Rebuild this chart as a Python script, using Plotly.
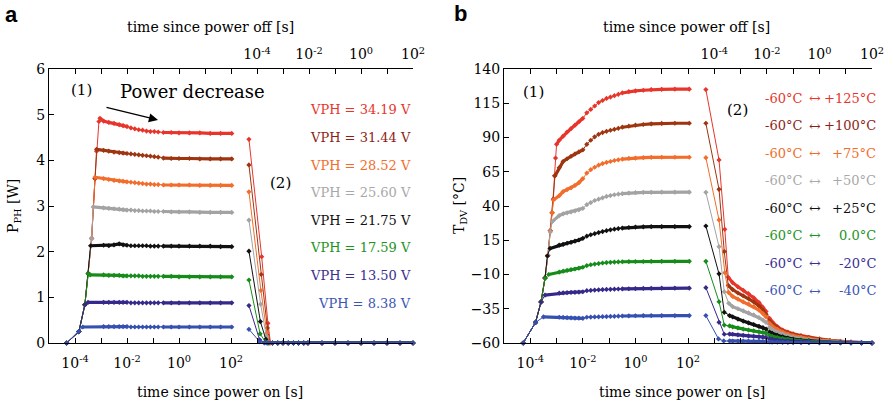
import numpy as np
import plotly.graph_objects as go

W, H = 894, 408

# ---- labels / colours -------------------------------------------------
vph_labels = ['VPH = 34.19 V', 'VPH = 31.44 V', 'VPH = 28.52 V', 'VPH = 25.60 V',
              'VPH = 21.75 V', 'VPH = 17.59 V', 'VPH = 13.50 V', 'VPH = 8.38 V']
cycle_low = '-60°C'
cycle_high = ['+125°C', '+100°C', '+75°C', '+50°C', '+25°C', '0.0°C', '-20°C', '-40°C']
line_colors = ['#e8352b', '#9e3510', '#f26d2b', '#a3a3a3', '#111111', '#168c1a', '#35298a', '#3550b0']
text_colors = ['#e8352b', '#8c1f17', '#f26d2b', '#a8a8a8', '#111111', '#1e931e', '#3a2e90', '#3a55b5']

bottom_decades = list(range(-5, 10))
top_decades = list(range(-12, 3))
decade_labels = {-4: '10<sup>-4</sup>', -2: '10<sup>-2</sup>', 0: '10<sup>0</sup>', 2: '10<sup>2</sup>'}

# ---- panel a : heater power P_PH [W], times as log10(s) ---------------
a_on_rise_t = [
    [-4.32, -3.85, -3.62, -3.49, -3.36, -3.23, -3.17, -3.08, -3.04],
    [-4.32, -3.85, -3.62, -3.49, -3.36, -3.23, -3.17],
    [-4.32, -3.85, -3.62, -3.49, -3.36, -3.23],
    [-4.32, -3.85, -3.62, -3.49, -3.36, -3.30],
    [-4.32, -3.85, -3.62, -3.49, -3.40],
    [-4.32, -3.85, -3.62, -3.49, -3.42],
    [-4.32, -3.85, -3.62, -3.50],
    [-4.32, -3.85, -3.70],
]
a_on_rise_p = [
    [0, 0.25, 0.84, 1.52, 2.29, 3.60, 4.20, 4.85, 4.92],
    [0, 0.25, 0.84, 1.52, 2.29, 3.60, 4.24],
    [0, 0.25, 0.84, 1.52, 2.29, 3.63],
    [0, 0.25, 0.84, 1.52, 2.29, 2.98],
    [0, 0.25, 0.84, 1.52, 2.13],
    [0, 0.25, 0.84, 1.52, 1.49],
    [0, 0.25, 0.84, 0.89],
    [0, 0.25, 0.35],
]
a_on_t = [-2.9, -2.7, -2.5, -2.3, -2.15, -2.0, -1.85, -1.7, -1.55, -1.4, -1.25,
          -1.1, -0.95, -0.8, -0.6, -0.3, 0.0, 0.4, 0.8, 1.2, 1.6, 2.03]
a_on_p = [
    [4.86, 4.83, 4.81, 4.78, 4.76, 4.74, 4.71, 4.69, 4.67, 4.66, 4.64, 4.63, 4.63, 4.62, 4.61, 4.61, 4.60, 4.60, 4.60, 4.59, 4.59, 4.59],
    [4.22, 4.20, 4.18, 4.17, 4.16, 4.15, 4.14, 4.13, 4.12, 4.11, 4.10, 4.09, 4.08, 4.07, 4.05, 4.04, 4.04, 4.04, 4.03, 4.03, 4.03, 4.03],
    [3.60, 3.58, 3.56, 3.55, 3.54, 3.53, 3.52, 3.51, 3.50, 3.49, 3.48, 3.48, 3.47, 3.47, 3.46, 3.46, 3.46, 3.46, 3.45, 3.45, 3.45, 3.45],
    [2.96, 2.95, 2.94, 2.93, 2.92, 2.91, 2.91, 2.90, 2.90, 2.89, 2.89, 2.89, 2.88, 2.88, 2.88, 2.87, 2.87, 2.87, 2.86, 2.86, 2.86, 2.86],
    [2.14, 2.13, 2.15, 2.17, 2.15, 2.14, 2.13, 2.13, 2.13, 2.13, 2.13, 2.12, 2.12, 2.12, 2.12, 2.12, 2.12, 2.12, 2.12, 2.12, 2.11, 2.11],
    [1.49, 1.48, 1.48, 1.48, 1.47, 1.47, 1.47, 1.47, 1.47, 1.46, 1.46, 1.46, 1.46, 1.46, 1.46, 1.46, 1.45, 1.45, 1.45, 1.45, 1.45, 1.45],
    [0.89, 0.89, 0.89, 0.89, 0.89, 0.89, 0.88, 0.88, 0.88, 0.88, 0.88, 0.88, 0.88, 0.88, 0.88, 0.88, 0.88, 0.88, 0.88, 0.88, 0.88, 0.88],
    [0.36, 0.36, 0.36, 0.36, 0.36, 0.36, 0.35, 0.35, 0.35, 0.35, 0.35, 0.35, 0.35, 0.35, 0.35, 0.35, 0.35, 0.35, 0.35, 0.35, 0.35, 0.35],
]
a_off_drop_t = [
    [-4.31, -3.82, -3.58, -3.48],
    [-4.31, -3.84, -3.60, -3.50],
    [-4.31, -3.85, -3.62, -3.52],
    [-4.31, -3.86, -3.64, -3.54],
    [-4.31, -3.87, -3.66, -3.56],
    [-4.31, -3.88, -3.68, -3.58],
    [-4.31, -3.90, -3.70, -3.60],
    [-4.31, -3.90, -3.72, -3.62],
]
a_off_drop_p = [
    [4.46, 1.89, 0.43, 0],
    [3.90, 1.50, 0.33, 0],
    [3.31, 1.15, 0.22, 0],
    [2.69, 0.85, 0.15, 0],
    [2.01, 0.47, 0.08, 0],
    [1.38, 0.20, 0.03, 0],
    [0.82, 0.07, 0.01, 0],
    [0.30, 0.03, 0.00, 0],
]
a_off_t = [-3.4, -3.2, -3.0, -2.8, -2.6, -2.4, -2.2, -2.04, -1.5, -1.0, -0.5, 0.0, 0.5, 1.0, 1.5, 2.0]
a_off_p = [0, 0, 0, 0, 0, 0, 0, 0, 0, 0, 0, 0, 0, 0, 0, 0]

# ---- panel b : device temperature T_DV [°C] ---------------------------
b_on_rise_t = [
    [-4.27, -3.80, -3.59, -3.44, -3.33, -3.24, -3.17, -3.12, -3.08, -3.04, -3.00],
    [-4.27, -3.80, -3.59, -3.44, -3.33, -3.24, -3.17, -3.12, -3.06],
    [-4.27, -3.80, -3.59, -3.44, -3.33, -3.24, -3.17, -3.12],
    [-4.27, -3.80, -3.59, -3.44, -3.33, -3.24, -3.17],
    [-4.27, -3.80, -3.59, -3.44, -3.35, -3.25],
    [-4.27, -3.80, -3.59, -3.44, -3.30],
    [-4.27, -3.80, -3.59, -3.44],
    [-4.27, -3.80, -3.50],
]
b_on_rise_T = [
    [-60, -45, -30, -12.5, 4, 22, 35, 45, 62, 75, 85],
    [-60, -45, -30, -12.5, 4, 22, 35, 45, 62],
    [-60, -45, -30, -12.5, 4, 22, 35, 44.4],
    [-60, -45, -30, -12.5, 4, 21, 28.5],
    [-60, -45, -30, -12.5, 3.5, 9],
    [-60, -45, -30, -12.8, -10],
    [-60, -45, -30, -25],
    [-60, -45, -41],
]
b_on_t = [-2.9, -2.75, -2.6, -2.45, -2.3, -2.15, -2.0, -1.85, -1.7, -1.55, -1.4, -1.25,
          -1.1, -0.95, -0.8, -0.65, -0.5, -0.25, 0.0, 0.3, 0.6, 1.0, 1.5, 2.05]
b_on_T = [
    [88, 91, 94, 96.5, 99, 101.5, 104, 108, 110.5, 113, 115.5, 117, 118.5, 119.5, 120.5, 121.5, 122.5, 123.5, 124, 124.5, 125, 125.2, 125.3, 125.3],
    [68, 72.5, 74.5, 76.3, 78, 79.5, 81, 85, 88, 90.5, 92.3, 93.6, 94.5, 95.3, 96, 96.7, 97.5, 98.3, 99, 99.5, 100, 100.3, 100.4, 100.4],
    [47.5, 50.5, 52, 53.3, 55, 57, 60, 64, 66.5, 68.3, 69.8, 71, 71.8, 72.5, 73.2, 73.7, 74.2, 74.7, 75, 75.3, 75.5, 75.6, 75.6, 75.6],
    [33, 34.3, 35, 35.7, 36.4, 37.2, 38.3, 41, 42.5, 44, 45, 46, 47, 47.6, 48.2, 48.6, 49, 49.4, 49.7, 49.9, 50, 50.1, 50.1, 50.1],
    [11.5, 12, 12.8, 13.5, 14.3, 15.2, 16.4, 18, 19, 19.8, 20.6, 21.3, 22, 22.6, 23.1, 23.5, 23.9, 24.3, 24.6, 24.8, 24.9, 25, 25, 25],
    [-8.2, -7.6, -7, -6.5, -6, -5.4, -4.7, -3.5, -2.9, -2.4, -2.0, -1.6, -1.3, -1.1, -0.9, -0.8, -0.7, -0.6, -0.5, -0.5, -0.4, -0.4, -0.4, -0.4],
    [-23.6, -23.4, -23.3, -23.1, -23, -22.8, -22.6, -21.8, -21.6, -21.4, -21.2, -21.0, -20.9, -20.8, -20.7, -20.6, -20.5, -20.4, -20.3, -20.2, -20.1, -20, -20, -20],
    [-41.2, -41.3, -41.5, -41.6, -41.8, -41.9, -42, -41.2, -41.1, -41, -40.9, -40.8, -40.7, -40.6, -40.5, -40.4, -40.3, -40.2, -40.1, -40, -40, -40, -40, -40],
]
b_off_drop_t = [
    [-4.32, -3.82, -3.60, -3.47],
    [-4.32, -3.82, -3.62, -3.47],
    [-4.32, -3.82, -3.60, -3.46],
    [-4.32, -3.82, -3.62, -3.45],
    [-4.32, -3.82, -3.62, -3.42],
    [-4.32, -3.82, -3.62, -3.42],
    [-4.32, -3.82, -3.62, -3.42],
    [-4.32, -3.84, -3.64, -3.42],
]
b_off_drop_T = [
    [125, 73.6, 23, -12],
    [100.4, 52.2, 6.7, -18],
    [75.3, 29.8, -8.7, -23],
    [50, 10.3, -22.6, -31],
    [25.4, -9.5, -37.6, -40],
    [-0.4, -29.9, -46.9, -47.5],
    [-19.6, -44.9, -53.6, -53.5],
    [-40, -57, -58.5, -58.5],
]
b_off_t = [-3.3, -3.1, -2.9, -2.7, -2.5, -2.3, -2.15, -2.03, -1.9, -1.8, -1.6, -1.4, -1.2,
           -1.0, -0.7, -0.4, 0.0, 0.4, 0.8, 1.2, 1.6, 2.0]
b_off_T = [
    [-16, -19, -21.5, -24, -27, -30.5, -34, -37, -42, -44.5, -48, -50.5, -52, -53.3, -54.6, -55.8, -57, -58, -58.8, -59.3, -59.7, -60],
    [-21, -23.5, -25.5, -27.5, -30, -33, -36, -39, -44, -46, -49, -51.3, -52.8, -54, -55.2, -56.3, -57.4, -58.3, -59, -59.4, -59.7, -60],
    [-26, -28, -30, -31.5, -33.5, -36, -38.5, -41, -45.5, -47.5, -50, -52, -53.5, -54.6, -55.8, -56.8, -57.8, -58.5, -59.1, -59.5, -59.8, -60],
    [-33.5, -35, -36.5, -38, -39.5, -41.5, -43.3, -45, -48.5, -50, -52, -53.5, -54.8, -55.8, -56.8, -57.6, -58.4, -59, -59.4, -59.7, -59.8, -60],
    [-41, -42.5, -44, -45.3, -46.5, -47.8, -48.8, -49.8, -52, -53, -54.4, -55.5, -56.4, -57.1, -57.8, -58.3, -58.9, -59.3, -59.6, -59.8, -59.9, -60],
    [-48.2, -49, -49.8, -50.5, -51.2, -51.8, -52.3, -52.8, -54.5, -55.2, -56.1, -56.8, -57.4, -57.9, -58.4, -58.8, -59.2, -59.5, -59.7, -59.8, -59.9, -60],
    [-53.6, -54, -54.4, -54.8, -55.1, -55.4, -55.7, -55.9, -57, -57.4, -57.9, -58.3, -58.6, -58.9, -59.1, -59.3, -59.5, -59.7, -59.8, -59.9, -60, -60],
    [-58.6, -58.6, -58.7, -58.7, -58.8, -58.8, -58.9, -58.9, -59.2, -59.3, -59.4, -59.5, -59.6, -59.7, -59.8, -59.8, -59.9, -59.9, -60, -60, -60, -60],
]

SERIF = 'DejaVu Serif'


def add_curve(fig, t_log, vals, color, xaxis, yaxis, thick_ranges):
    t = np.power(10.0, np.array(t_log, dtype=float))
    # dense stretches of the recording show up as a thick band
    xs, ys = [], []
    for lo, hi in thick_ranges:
        for tt, vv, tl in zip(t, vals, t_log):
            if lo - 1e-9 <= tl <= hi + 1e-9:
                xs.append(tt)
                ys.append(vv)
        xs.append(None)
        ys.append(None)
    fig.add_trace(go.Scatter(x=xs, y=ys, mode='lines', line=dict(color=color, width=3.2),
                             xaxis=xaxis, yaxis=yaxis, showlegend=False, hoverinfo='skip'))
    fig.add_trace(go.Scatter(x=t, y=vals, mode='lines+markers',
                             line=dict(color=color, width=1),
                             marker=dict(symbol='diamond', size=4, color=color),
                             xaxis=xaxis, yaxis=yaxis, cliponaxis=False,
                             showlegend=False, hoverinfo='skip'))


fig = go.Figure()

for i in range(8):
    c = line_colors[i]
    on_t = a_on_rise_t[i] + a_on_t
    on_p = a_on_rise_p[i] + a_on_p[i]
    add_curve(fig, on_t, on_p, c, 'x', 'y', [(a_on_rise_t[i][-1], -2.0), (-0.6, 2.03)])
    off_t = a_off_drop_t[i] + a_off_t
    off_p = a_off_drop_p[i] + a_off_p
    add_curve(fig, off_t, off_p, c, 'x2', 'y', [(a_off_drop_t[i][-1], 2.0)])

for i in range(8):
    c = line_colors[i]
    on_t = b_on_rise_t[i] + b_on_t
    on_T = b_on_rise_T[i] + b_on_T[i]
    add_curve(fig, on_t, on_T, c, 'x3', 'y2', [(b_on_rise_t[i][-1], -2.0), (-0.5, 2.05)])
    off_t = b_off_drop_t[i] + b_off_t
    off_T = b_off_drop_T[i] + b_off_T[i]
    add_curve(fig, off_t, off_T, c, 'x4', 'y2', [(b_off_drop_t[i][-1], -2.03), (-1.9, 2.0)])


def px(x):
    return x / W


def py(y):
    return 1 - y / H


def log_axis(decades, rng, domain, side, anchor, overlaying=None):
    ax = dict(type='log', range=rng, domain=domain, side=side, anchor=anchor,
              tickvals=[10.0 ** d for d in decades],
              ticktext=[decade_labels.get(d, '') for d in decades],
              ticks='inside', ticklen=5, tickcolor='black', tickwidth=1,
              showline=True, linecolor='black', linewidth=1, mirror=False,
              showgrid=False, zeroline=False, automargin=False,
              ticklabelstandoff=7 if side == 'bottom' else 3,
              tickfont=dict(family=SERIF, size=14, color='black'))
    if overlaying:
        ax['overlaying'] = overlaying
    return ax


def lin_axis(rng, vals, anchor):
    return dict(range=rng, domain=ydom, anchor=anchor, tickvals=vals,
                ticks='inside', ticklen=5, tickcolor='black', showline=True, linecolor='black',
                linewidth=1, showgrid=False, zeroline=False, automargin=False,
                tickfont=dict(family=SERIF, size=14, color='black'))


xa = [49 / W, 413 / W]
xb = [504 / W, 872 / W]
ydom = [(H - 343) / H, (H - 69) / H]

fig.update_layout(
    width=W, height=H,
    margin=dict(l=0, r=0, t=0, b=0, autoexpand=False),
    paper_bgcolor='white', plot_bgcolor='white',
    font=dict(family=SERIF, size=14, color='black'),
    showlegend=False,
    xaxis=log_axis(bottom_decades, [-5, 9], xa, 'bottom', 'y'),
    xaxis2=log_axis(top_decades, [-12, 2], xa, 'top', 'y', overlaying='x'),
    xaxis3=log_axis(bottom_decades, [-5, 9], xb, 'bottom', 'y2'),
    xaxis4=log_axis(top_decades, [-12, 2], xb, 'top', 'y2', overlaying='x3'),
    yaxis=lin_axis([0, 6], [0, 1, 2, 3, 4, 5, 6], 'x'),
    yaxis2=lin_axis([-60, 140], [-60, -35, -10, 15, 40, 65, 90, 115, 140], 'x3'),
)

ann = []


def text(x, y, s, size=14, color='black', xanchor='center', family=SERIF, angle=0):
    ann.append(dict(x=px(x), y=py(y), xref='paper', yref='paper', text=s, showarrow=False,
                    xanchor=xanchor, yanchor='middle', textangle=angle,
                    font=dict(family=family, size=size, color=color)))


text(11, 15, '<b>a</b>', size=22, family='Liberation Sans')
text(460, 13, '<b>b</b>', size=22, family='Liberation Sans')
text(210, 27, 'time since power off [s]')
text(686, 27, 'time since power off [s]')
text(220, 392, 'time since power on [s]')
text(682, 392, 'time since power on [s]')
text(14, 206, 'P<sub>PH</sub> [W]', angle=-90)
text(460, 206, 'T<sub>DV</sub> [°C]', angle=-90)
text(81, 90, '(1)', size=15)
text(192, 91, 'Power decrease', size=18)
text(280, 183, '(2)', size=15)
text(533, 92, '(1)', size=15)
text(737, 110, '(2)', size=15)

for i in range(8):
    text(413, 110 + i * 27.6, vph_labels[i], size=13, color=text_colors[i], xanchor='right')
    yb = 98 + i * 27.5
    text(763, yb, cycle_low, size=13, color=text_colors[i], xanchor='left')
    text(815, yb, '↔', size=14, color=text_colors[i])
    text(878, yb, cycle_high[i], size=13, color=text_colors[i], xanchor='right')

ann.append(dict(x=px(158), y=py(120), xref='paper', yref='paper', ax=-53, ay=-13,
                axref='pixel', ayref='pixel', text='', showarrow=True, arrowhead=2,
                arrowsize=1.3, arrowwidth=1.4, arrowcolor='black'))

fig.update_layout(annotations=ann)
# the page's default body margin would push the figure 8px down/right
fig.write_html("out.html", config={'displayModeBar': False},
               post_script="document.body.style.margin='0';")
